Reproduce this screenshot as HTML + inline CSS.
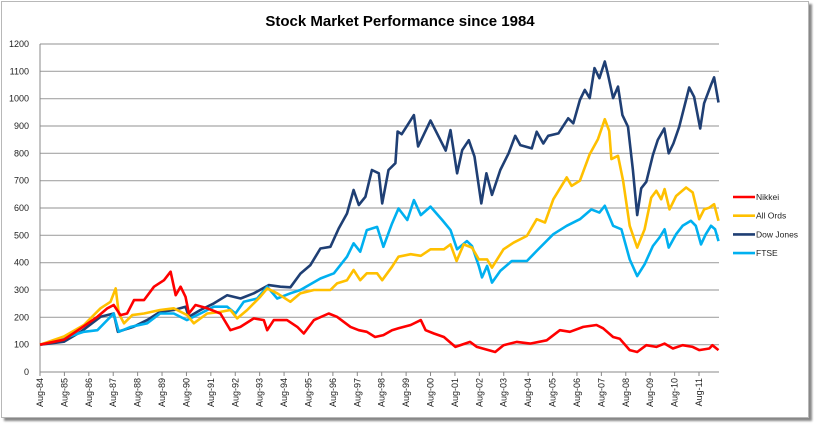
<!DOCTYPE html>
<html><head><meta charset="utf-8"><style>
html,body{margin:0;padding:0;background:#fff;}
body{width:814px;height:424px;overflow:hidden;font-family:"Liberation Sans",sans-serif;}
#frame{position:absolute;left:1px;top:1px;width:806px;height:415px;border:1px solid #b8b8b8;box-shadow:3px 3px 2px #888;background:#fff;}
</style></head><body>
<div id="frame"></div>
<svg id="chart" width="814" height="424" style="position:absolute;left:0;top:0">
<text x="400" y="26" text-anchor="middle" font-family="Liberation Sans, sans-serif" font-weight="bold" font-size="15" fill="#000">Stock Market Performance since 1984</text>
</svg>
<script>
const yTicks=[0,100,200,300,400,500,600,700,800,900,1000,1100,1200];
const xTickYears=[84,85,86,87,88,89,90,91,92,93,94,95,96,97,98,99,0,1,2,3,4,5,6,7,8,9,10,11];
const seriesNames=["Nikkei","All Ords","Dow Jones","FTSE"];
const nikkeiDates=[1984.58,1985.56,1986.25,1986.93,1987.34,1987.6,1987.88,1988.15,1988.43,1988.84,1989.25,1989.66,1989.93,1990.14,1990.34,1990.54,1990.68,1990.95,1991.43,1991.97,1992.38,1992.79,1993.34,1993.75,1993.89,1994.16,1994.7,1995.12,1995.39,1995.8,1996.41,1996.75,1997.3,1997.64,1997.97,1998.31,1998.65,1999.0,1999.27,1999.77,2000.18,2000.38,2000.72,2001.13,2001.6,2002.2,2002.48,2003.23,2003.57,2004.12,2004.66,2005.34,2005.88,2006.29,2006.84,2007.38,2007.65,2008.06,2008.33,2008.74,2009.05,2009.42,2009.83,2010.17,2010.51,2010.91,2011.32,2011.59,2012.0,2012.13,2012.38];
const nikkeiValues=[100,118,160,202,233,245,208,214,263,263,312,336,367,281,312,275,214,245,233,214,153,165,196,190,153,190,190,165,141,190,214,202,165,153,147,128,135,153,160,172,190,153,141,128,92,110,92,73,98,110,104,116,153,147,165,172,160,128,122,80,73,98,92,104,86,98,92,80,86,98,80];
const allOrdsDates=[1984.58,1985.56,1986.38,1987.06,1987.47,1987.68,1987.81,1988.02,1988.36,1988.84,1989.5,1990.06,1990.61,1990.88,1991.43,1991.97,1992.38,1992.66,1993.07,1993.6,1993.89,1994.3,1994.84,1995.25,1995.8,1996.48,1996.75,1997.16,1997.43,1997.7,1997.97,1998.39,1998.6,1999.0,1999.27,1999.77,2000.18,2000.58,2001.13,2001.4,2001.65,2001.94,2002.28,2002.56,2002.9,2003.1,2003.57,2003.98,2004.53,2004.93,2005.27,2005.61,2006.16,2006.36,2006.7,2007.1,2007.44,2007.72,2007.9,2007.99,2008.26,2008.47,2008.74,2009.05,2009.35,2009.62,2009.83,2010.03,2010.17,2010.37,2010.64,2011.05,2011.32,2011.59,2011.79,2012.0,2012.2,2012.38];
const allOrdsValues=[100,130,172,233,257,306,214,178,208,214,227,233,208,178,214,220,227,196,227,275,306,288,257,288,300,300,324,336,373,336,361,361,336,385,422,431,425,449,449,467,406,467,455,412,412,382,449,473,498,559,547,632,712,681,700,797,852,925,882,779,791,700,535,455,522,638,663,632,669,595,644,675,657,559,595,601,614,553];
const dowDates=[1984.58,1985.56,1986.25,1987.06,1987.6,1987.77,1988.4,1988.97,1989.5,1990.06,1990.54,1990.68,1991.15,1991.7,1992.25,1992.8,1993.34,1993.95,1994.43,1994.84,1995.25,1995.66,1996.07,1996.48,1996.82,1997.16,1997.43,1997.64,1997.91,1998.18,1998.46,1998.6,1998.86,1999.14,1999.23,1999.4,1999.9,2000.07,2000.58,2001.2,2001.4,2001.67,2001.88,2002.15,2002.38,2002.66,2002.87,2003.1,2003.44,2003.78,2004.05,2004.26,2004.73,2004.93,2005.2,2005.4,2005.82,2006.22,2006.43,2006.7,2006.9,2007.1,2007.3,2007.5,2007.72,2007.85,2008.06,2008.26,2008.44,2008.67,2008.87,2009.05,2009.21,2009.42,2009.69,2009.89,2010.16,2010.34,2010.53,2010.77,2011.18,2011.38,2011.63,2011.79,2012.07,2012.2,2012.38];
const dowValues=[100,111,147,202,214,147,165,190,220,227,239,202,227,251,281,269,288,318,312,310,360,391,452,458,525,580,666,611,641,739,727,617,739,764,880,870,940,825,920,810,885,727,812,848,788,617,727,648,739,800,864,830,818,879,836,864,873,928,910,995,1032,1002,1112,1075,1136,1088,1002,1044,940,897,739,574,672,696,794,849,891,800,836,897,1041,1007,891,983,1050,1078,986];
const ftseDates=[1984.58,1985.56,1986.38,1986.93,1987.6,1987.81,1988.29,1988.97,1989.5,1990.06,1990.6,1991.15,1991.7,1992.25,1992.59,1992.93,1993.48,1993.89,1994.3,1994.84,1995.25,1996.07,1996.62,1997.16,1997.43,1997.7,1997.97,1998.39,1998.65,1999.0,1999.27,1999.63,1999.9,2000.18,2000.58,2001.06,2001.4,2001.67,2002.07,2002.28,2002.56,2002.69,2002.9,2003.1,2003.44,2003.91,2004.53,2004.93,2005.61,2006.16,2006.7,2007.17,2007.5,2007.72,2008.06,2008.4,2008.74,2009.05,2009.35,2009.69,2009.96,2010.17,2010.34,2010.64,2010.91,2011.25,2011.45,2011.66,2011.86,2012.07,2012.24,2012.38];
const ftseValues=[100,124,147,153,214,147,165,178,214,214,190,214,239,239,214,257,269,312,269,288,300,342,361,422,471,440,519,531,458,543,598,556,629,574,605,556,519,449,479,461,388,346,388,327,370,406,406,443,504,535,559,595,583,608,535,522,412,351,394,461,492,522,455,504,535,553,535,467,504,535,522,479];

const svg=document.getElementById('chart');
const NS='http://www.w3.org/2000/svg';
const L=40,R=719,T=44,B=372;
function yS(v){return B-(v/1200)*(B-T);}
function xS(yr){return L+(yr-1984.58)*((699-40)/27);}
function mk(tag,attrs){const e=document.createElementNS(NS,tag);for(const k in attrs)e.setAttribute(k,attrs[k]);svg.appendChild(e);return e;}

yTicks.forEach(v=>{
  const y=yS(v);
  if(v>0){const g=mk('line',{x1:L,x2:R,y1:y,y2:y,stroke:'#a6a6a6','stroke-width':1.2});
  
  }
  const t=mk('text',{x:29,y:y+3,'text-anchor':'end','font-size':9,'font-family':'Liberation Sans, sans-serif',fill:'#222'});
  t.textContent=v;
  
  
});
const ax=mk('line',{x1:L,x2:L,y1:T,y2:B,stroke:'#888','stroke-width':1});


const bx=mk('line',{x1:L,x2:R,y1:B,y2:B,stroke:'#888','stroke-width':1});


xTickYears.forEach((yy,i)=>{
  const x=xS(1984.58+i);
  const tk=mk('line',{x1:x,x2:x,y1:B,y2:B+4,stroke:'#888'});
  
  
  const lab='Aug-'+String(yy).padStart(2,'0');
  const t=mk('text',{x:0,y:0,'text-anchor':'end','font-size':9,'font-family':'Liberation Sans, sans-serif',fill:'#222',transform:'translate('+(x+3)+','+(B+6)+') rotate(-90)'});
  t.textContent=lab;
  
  
});
const sets=[[nikkeiDates,nikkeiValues,'#ff0000','nikkei'],[allOrdsDates,allOrdsValues,'#ffc000','all-ords'],[dowDates,dowValues,'#1f3f74','dow-jones'],[ftseDates,ftseValues,'#00b0f0','ftse']];
const order=[0,2,3,1];
[2,3,1,0].forEach(i=>{
  const s=sets[i];
  const pts=s[0].map((d,j)=>xS(d).toFixed(1)+','+yS(s[1][j]).toFixed(1)).join(' ');
  const p=mk('polyline',{points:pts,fill:'none',stroke:s[2],'stroke-width':2.6,'stroke-linejoin':'round'});
  
  
});
seriesNames.forEach((n,i)=>{
  const y=197+i*18.7;
  const l=mk('line',{x1:733,x2:755,y1:y,y2:y,stroke:sets[i][2],'stroke-width':2.6});
  
  
  const t=mk('text',{x:756,y:y+3,'font-size':8.5,'font-family':'Liberation Sans, sans-serif',fill:'#222'});
  t.textContent=n;
  
  
});
</script>
</body></html>
